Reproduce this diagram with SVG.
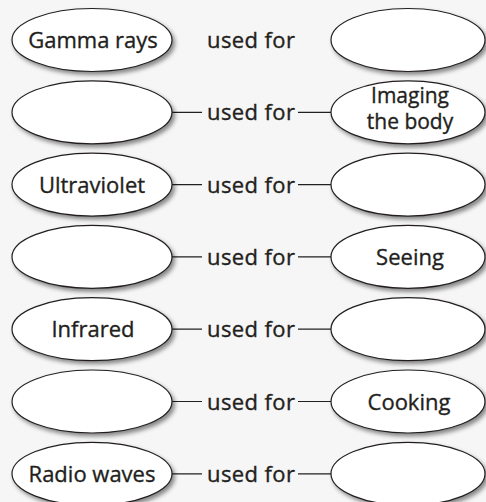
<svg xmlns="http://www.w3.org/2000/svg" width="486" height="502" viewBox="0 0 486 502">
<defs>
<filter id="sh" x="-10%" y="-20%" width="125%" height="150%">
<feDropShadow dx="2.5" dy="3" stdDeviation="2" flood-color="#000" flood-opacity="0.45"/>
</filter>
<style>
.e{fill:#fff;stroke:#231f20;stroke-width:1.2;filter:url(#sh)}
.t{font-family:"Open Sans","Liberation Sans",sans-serif;font-size:22px;fill:#231f20;stroke:#231f20;stroke-width:0.35;text-anchor:middle}
.s{font-size:21px}
.c{stroke:#231f20;stroke-width:1.2;fill:none}
</style>
</defs>
<rect width="486" height="502" fill="#f6f6f6"/>
<g id="connectors">
<path class="c" d="M172 112.3H202M298 112.3H331"/>
<path class="c" d="M172 184.6H202M298 184.6H331"/>
<path class="c" d="M172 256.9H202M298 256.9H331"/>
<path class="c" d="M172 329.2H202M298 329.2H331"/>
<path class="c" d="M172 401.5H202M298 401.5H331"/>
<path class="c" d="M172 473.8H202M298 473.8H331"/>
</g>
<g id="labels">
<text class="t" x="251" y="48" textLength="88">used for</text>
<text class="t" x="251" y="120.3" textLength="88">used for</text>
<text class="t" x="251" y="192.6" textLength="88">used for</text>
<text class="t" x="251" y="264.9" textLength="88">used for</text>
<text class="t" x="251" y="337.2" textLength="88">used for</text>
<text class="t" x="251" y="409.5" textLength="88">used for</text>
<text class="t" x="251" y="481.8" textLength="88">used for</text>
</g>
<g id="gamma"><ellipse class="e" cx="92" cy="40" rx="80" ry="31.5"/><text class="t" x="93" y="48">Gamma rays</text></g>
<g id="use1"><ellipse class="e" cx="408" cy="40" rx="77" ry="31.5"/></g>
<g id="xray"><ellipse class="e" cx="92" cy="112.3" rx="80" ry="31.5"/></g>
<g id="imaging"><ellipse class="e" cx="408" cy="112.3" rx="77" ry="31.5"/><text class="t s" x="410" y="103">Imaging</text><text class="t s" x="410" y="129">the body</text></g>
<g id="ultraviolet"><ellipse class="e" cx="92" cy="184.6" rx="80" ry="31.5"/><text class="t" x="92" y="192.6">Ultraviolet</text></g>
<g id="use3"><ellipse class="e" cx="408" cy="184.6" rx="77" ry="31.5"/></g>
<g id="visible"><ellipse class="e" cx="92" cy="256.9" rx="80" ry="31.5"/></g>
<g id="seeing"><ellipse class="e" cx="408" cy="256.9" rx="77" ry="31.5"/><text class="t" x="410" y="264.9">Seeing</text></g>
<g id="infrared"><ellipse class="e" cx="92" cy="329.2" rx="80" ry="31.5"/><text class="t" x="93" y="337.2">Infrared</text></g>
<g id="use5"><ellipse class="e" cx="408" cy="329.2" rx="77" ry="31.5"/></g>
<g id="microwave"><ellipse class="e" cx="92" cy="401.5" rx="80" ry="31.5"/></g>
<g id="cooking"><ellipse class="e" cx="408" cy="401.5" rx="77" ry="31.5"/><text class="t" x="409" y="409.5">Cooking</text></g>
<g id="radio"><ellipse class="e" cx="92" cy="473.8" rx="80" ry="31.5"/><text class="t" x="92" y="481.8">Radio waves</text></g>
<g id="use7"><ellipse class="e" cx="408" cy="473.8" rx="77" ry="31.5"/></g>
</svg>
